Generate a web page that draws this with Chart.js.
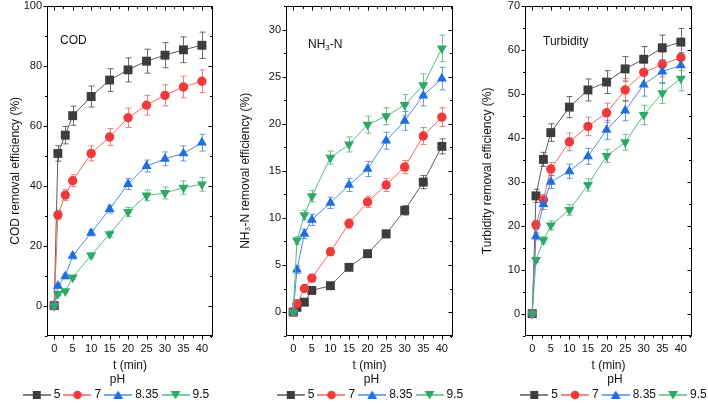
<!DOCTYPE html>
<html>
<head>
<meta charset="utf-8">
<script src="https://cdn.jsdelivr.net/npm/chart.js@4.4.0/dist/chart.umd.min.js"></script>
<style>
  html, body { margin: 0; padding: 0; background: #fff; }
  #wrap { position: relative; width: 708px; height: 404px; overflow: hidden; }
  canvas { position: absolute; top: 0; }
</style>
</head>
<body>
<div id="wrap">
  <canvas id="cod" width="236" height="404" style="left:0px"></canvas>
  <canvas id="nh3" width="234" height="404" style="left:236px"></canvas>
  <canvas id="turb" width="238" height="404" style="left:470px"></canvas>
</div>
<script>
// sampling times (min) and pH series
const times = [0, 1, 3, 5, 10, 15, 20, 25, 30, 35, 40];
const phLabels = ["5", "7", "8.35", "9.5"];

// COD removal efficiency (%)
const cod5 = [0, 50.8, 56.9, 63.4, 69.8, 75.3, 78.7, 81.6, 83.6, 85.4, 86.9];
const cod7 = [0, 30.3, 36.9, 41.7, 50.8, 56.3, 62.7, 66.9, 70.2, 73.0, 74.9];
const cod835 = [0, 6.6, 9.8, 16.6, 24.3, 32.2, 40.6, 46.6, 49.0, 50.8, 54.4];
const cod95 = [0, 3.9, 4.8, 9.4, 16.8, 23.9, 31.3, 36.8, 37.6, 39.4, 40.5];
const codErr5 = [0, 2.6, 2.9, 3.2, 3.5, 3.8, 4.0, 4.0, 4.2, 4.3, 4.4];
const codErr7 = [0, 1.5, 1.8, 2.0, 2.5, 2.8, 3.2, 3.3, 3.5, 3.6, 3.8];
const codErr835 = [0, 0.6, 0.8, 1.0, 1.0, 1.3, 1.8, 2.0, 2.3, 2.5, 2.8];
const codErr95 = [0, 0.5, 0.5, 0.6, 0.8, 1.0, 1.5, 1.8, 2.0, 2.2, 2.3];

// NH3-N removal efficiency (%)
const nh5 = [0, 0.5, 1.05, 2.3, 2.8, 4.75, 6.2, 8.3, 10.8, 13.8, 17.6];
const nh7 = [0, 0.9, 2.5, 3.6, 6.4, 9.4, 11.7, 13.5, 15.4, 18.7, 20.7];
const nh835 = [0, 4.5, 8.3, 9.8, 11.6, 13.5, 15.2, 18.2, 20.3, 23.0, 24.8];
const nh95 = [0, 7.6, 10.3, 12.3, 16.4, 17.8, 19.9, 20.8, 22.0, 24.1, 28.0];
const nhErr5 = [0, 0.2, 0.2, 0.3, 0.3, 0.3, 0.3, 0.4, 0.5, 0.7, 0.8];
const nhErr7 = [0, 0.3, 0.3, 0.4, 0.4, 0.5, 0.6, 0.7, 0.7, 0.9, 1.0];
const nhErr835 = [0, 0.4, 0.5, 0.6, 0.6, 0.7, 0.8, 0.9, 1.0, 1.1, 1.2];
const nhErr95 = [0, 0.4, 0.5, 0.6, 0.7, 0.8, 0.9, 0.9, 1.1, 1.2, 1.4];

// Turbidity removal efficiency (%)
const tu5 = [0, 26.8, 35.1, 41.2, 47.0, 50.9, 52.7, 55.7, 57.9, 60.5, 61.8];
const tu7 = [0, 20.2, 25.9, 32.9, 39.1, 42.6, 45.7, 50.9, 54.9, 56.7, 58.3];
const tu835 = [0, 17.6, 24.9, 30.0, 32.4, 35.8, 41.8, 46.2, 52.1, 55.1, 56.5];
const tu95 = [0, 12.2, 16.7, 20.1, 23.6, 29.3, 35.9, 39.0, 45.2, 50.2, 53.5];
const tuErr5 = [0, 1.5, 1.6, 2.0, 2.4, 2.5, 2.6, 2.8, 2.9, 2.9, 3.1];
const tuErr7 = [0, 1.0, 1.2, 1.5, 2.0, 2.1, 2.2, 2.6, 2.7, 2.8, 3.0];
const tuErr835 = [0, 0.8, 1.2, 1.5, 1.6, 1.8, 2.2, 2.3, 2.6, 2.7, 2.9];
const tuErr95 = [0, 0.6, 0.8, 1.0, 1.2, 1.4, 1.5, 1.8, 2.2, 2.4, 2.8];

const FONT = "'Liberation Sans', Arial, sans-serif";

const seriesStyle = [
  { marker: "#3d3d3d", line: "#5c5c5c", err: "rgba(70,70,70,0.8)", shape: "rect", radius: 6.3, rot: 0 },
  { marker: "#f03a3a", line: "#f06666", err: "rgba(235,85,85,0.75)", shape: "circle", radius: 4.7, rot: 0 },
  { marker: "#1f6fe0", line: "#4a8ae6", err: "rgba(40,110,225,0.7)", shape: "triangle", radius: 5.8, rot: 0 },
  { marker: "#2ea866", line: "#52bb82", err: "rgba(50,170,100,0.7)", shape: "triangle", radius: 5.8, rot: 180 },
];

// legend symbol: short line with the marker in the middle
function legendSymbol(i) {
  const s = seriesStyle[i];
  const c = document.createElement("canvas");
  c.width = 28;
  c.height = 12;
  const g = c.getContext("2d");
  g.strokeStyle = s.line;
  g.lineWidth = 1.5;
  g.beginPath();
  g.moveTo(0, 6);
  g.lineTo(28, 6);
  g.stroke();
  g.fillStyle = s.marker;
  g.beginPath();
  if (i === 0) g.rect(10, 2, 8, 8);
  else if (i === 1) g.arc(14, 6, 4.3, 0, Math.PI * 2);
  else if (i === 2) { g.moveTo(14, 1.5); g.lineTo(19, 10); g.lineTo(9, 10); g.closePath(); }
  else { g.moveTo(14, 10.5); g.lineTo(19, 2); g.lineTo(9, 2); g.closePath(); }
  g.fill();
  return c;
}

function isMajor(v, major) {
  const r = v / major;
  return Math.abs(r - Math.round(r)) < 1e-6;
}

// error bars under the lines
const errorBars = {
  id: "errorBars",
  beforeDatasetsDraw(chart) {
    const ctx = chart.ctx;
    const xs = chart.scales.x, ys = chart.scales.y;
    chart.data.datasets.forEach((ds, i) => {
      ctx.save();
      ctx.strokeStyle = seriesStyle[i].err;
      ctx.lineWidth = 1;
      ds.data.forEach((p, j) => {
        const e = ds.errors[j];
        if (!e) return;
        const x = Math.round(xs.getPixelForValue(p.x)) + 0.5;
        const y1 = ys.getPixelForValue(p.y + e);
        const y2 = ys.getPixelForValue(p.y - e);
        ctx.beginPath();
        ctx.moveTo(x, y1); ctx.lineTo(x, y2);
        ctx.moveTo(x - 3, y1); ctx.lineTo(x + 3, y1);
        ctx.moveTo(x - 3, y2); ctx.lineTo(x + 3, y2);
        ctx.stroke();
      });
      ctx.restore();
    });
  },
};

// box frame with major/minor ticks, mirrored inward on top/right
const frame = {
  id: "frame",
  afterDraw(chart, args, opts) {
    const ctx = chart.ctx;
    const a = chart.chartArea;
    const xs = chart.scales.x, ys = chart.scales.y;
    ctx.save();
    ctx.strokeStyle = "#000";
    ctx.lineWidth = 1;
    const L = Math.round(a.left) + 0.5, R = Math.round(a.right) - 0.5;
    const T = Math.round(a.top) + 0.5, B = Math.round(a.bottom) - 0.5;
    ctx.strokeRect(L, T, R - L, B - T);
    ctx.beginPath();
    xs.ticks.forEach((t) => {
      if (t.value < xs.min || t.value > xs.max) return;
      const x = Math.round(xs.getPixelForValue(t.value)) + 0.5;
      const len = isMajor(t.value, opts.xMajor) ? 4 : 2.5;
      ctx.moveTo(x, B); ctx.lineTo(x, B + len);
      ctx.moveTo(x, T); ctx.lineTo(x, T + len);
    });
    ys.ticks.forEach((t) => {
      if (t.value < ys.min || t.value > ys.max) return;
      const y = Math.round(ys.getPixelForValue(t.value)) + 0.5;
      const len = isMajor(t.value, opts.yMajor) ? 4 : 2.5;
      ctx.moveTo(L, y); ctx.lineTo(L - len, y);
      ctx.moveTo(R, y); ctx.lineTo(R - len, y);
    });
    ctx.stroke();
    // panel name inside the plot
    ctx.fillStyle = "#111";
    ctx.font = "12px " + FONT;
    ctx.textBaseline = "middle";
    const lx = a.left + opts.labelDx, ly = a.top + opts.labelDy;
    ctx.fillText(opts.label, lx, ly);
    if (opts.labelSub) {
      let w = ctx.measureText(opts.label).width;
      ctx.font = "8px " + FONT;
      ctx.fillText(opts.labelSub, lx + w, ly + 3);
      w += ctx.measureText(opts.labelSub).width;
      ctx.font = "12px " + FONT;
      ctx.fillText(opts.labelTail, lx + w, ly);
    }
    ctx.restore();
  },
};

// move the legend sideways without touching the plot area
const legendShift = {
  id: "legendShift",
  afterLayout(chart, args, opts) {
    if (chart.legend && opts.dx) {
      chart.legend.left += opts.dx;
      chart.legend.right += opts.dx;
    }
  },
};

function makePanel(id, values, errors, cfg) {
  const datasets = values.map((arr, i) => {
    const s = seriesStyle[i];
    return {
      label: phLabels[i],
      data: times.map((t, j) => ({ x: t, y: arr[j] })),
      errors: errors[i],
      borderColor: s.line,
      borderWidth: 1,
      backgroundColor: s.marker,
      pointStyle: s.shape,
      pointRotation: s.rot,
      pointRadius: s.radius,
      pointBorderWidth: 0,
      pointBackgroundColor: s.marker,
      tension: 0,
      order: 3 - i,
    };
  });

  new Chart(document.getElementById(id), {
    type: "line",
    data: { datasets },
    plugins: [errorBars, frame, legendShift],
    options: {
      responsive: false,
      animation: false,
      clip: false,
      layout: {
        autoPadding: false,
        padding: { left: 0, right: cfg.padRight, top: 0, bottom: cfg.padBottom },
      },
      scales: {
        x: {
          type: "linear",
          min: -1.95,
          max: 43,
          afterFit: (s) => { s.height = 38; },
          grid: { display: false, drawTicks: false },
          border: { display: false },
          ticks: {
            stepSize: 2.5,
            includeBounds: false,
            autoSkip: false,
            maxRotation: 0,
            padding: 7,
            color: "#111",
            font: { family: FONT, size: 11 },
            callback: (v) => (isMajor(v, 5) ? v : ""),
          },
          title: {
            display: true,
            text: "t (min)",
            color: "#111",
            font: { family: FONT, size: 12 },
            padding: { top: 0, bottom: 1 },
          },
        },
        y: {
          min: cfg.yMin,
          max: cfg.yMax,
          afterFit: (s) => { s.width = cfg.yWidth; },
          grid: { display: false, drawTicks: true, tickLength: 5 },
          border: { display: false },
          ticks: {
            stepSize: cfg.yStep,
            autoSkip: false,
            padding: 0,
            color: "#111",
            font: { family: FONT, size: 11, lineHeight: 1.1 },
            callback: (v) => (isMajor(v, cfg.yMajor) ? v : ""),
          },
          title: {
            display: true,
            text: cfg.yTitle,
            color: "#111",
            font: { family: FONT, size: 12 },
            padding: { top: cfg.yTitlePad, bottom: 0 },
          },
        },
      },
      plugins: {
        tooltip: { enabled: false },
        frame: {
          xMajor: 5,
          yMajor: cfg.yMajor,
          label: cfg.label,
          labelSub: cfg.labelSub,
          labelTail: cfg.labelTail,
          labelDx: cfg.labelDx,
          labelDy: cfg.labelDy,
        },
        legendShift: { dx: cfg.legendDx },
        legend: {
          position: "bottom",
          title: {
            display: true,
            text: "pH",
            color: "#111",
            font: { family: FONT, size: 12 },
            padding: { top: 0, bottom: -5 },
          },
          labels: {
            usePointStyle: true,
            pointStyleWidth: 22,
            boxHeight: 12,
            padding: 6,
            color: "#111",
            font: { family: FONT, size: 12 },
            generateLabels: (chart) =>
              chart.data.datasets.map((ds, i) => ({
                text: ds.label,
                pointStyle: legendSymbol(i),
                datasetIndex: i,
                hidden: false,
                lineWidth: 0,
                fontColor: "#111",
              })),
          },
        },
      },
    },
  });
}

makePanel("cod", [cod5, cod7, cod835, cod95], [codErr5, codErr7, codErr835, codErr95], {
  padRight: 23, padBottom: -7, yWidth: 47, yMin: -10, yMax: 100, yStep: 10, yMajor: 20,
  yTitle: "COD removal efficiency (%)", yTitlePad: 8,
  label: "COD", labelDx: 13, labelDy: 35, legendDx: 11,
});
makePanel("nh3", [nh5, nh7, nh835, nh95], [nhErr5, nhErr7, nhErr835, nhErr95], {
  padRight: 17, padBottom: -7, yWidth: 50, yMin: -2.5, yMax: 32.5, yStep: 2.5, yMajor: 5,
  yTitle: "NH\u2083-N removal efficiency (%)", yTitlePad: 2,
  label: "NH", labelSub: "3", labelTail: "-N", labelDx: 22, labelDy: 39, legendDx: 27,
});
makePanel("turb", [tu5, tu7, tu835, tu95], [tuErr5, tuErr7, tuErr835, tuErr95], {
  padRight: 16, padBottom: -7, yWidth: 55, yMin: -5, yMax: 70, yStep: 5, yMajor: 10,
  yTitle: "Turbidity removal efficiency (%)", yTitlePad: 10,
  label: "Turbidity", labelDx: 18, labelDy: 36, legendDx: 34,
});
</script>
</body>
</html>
